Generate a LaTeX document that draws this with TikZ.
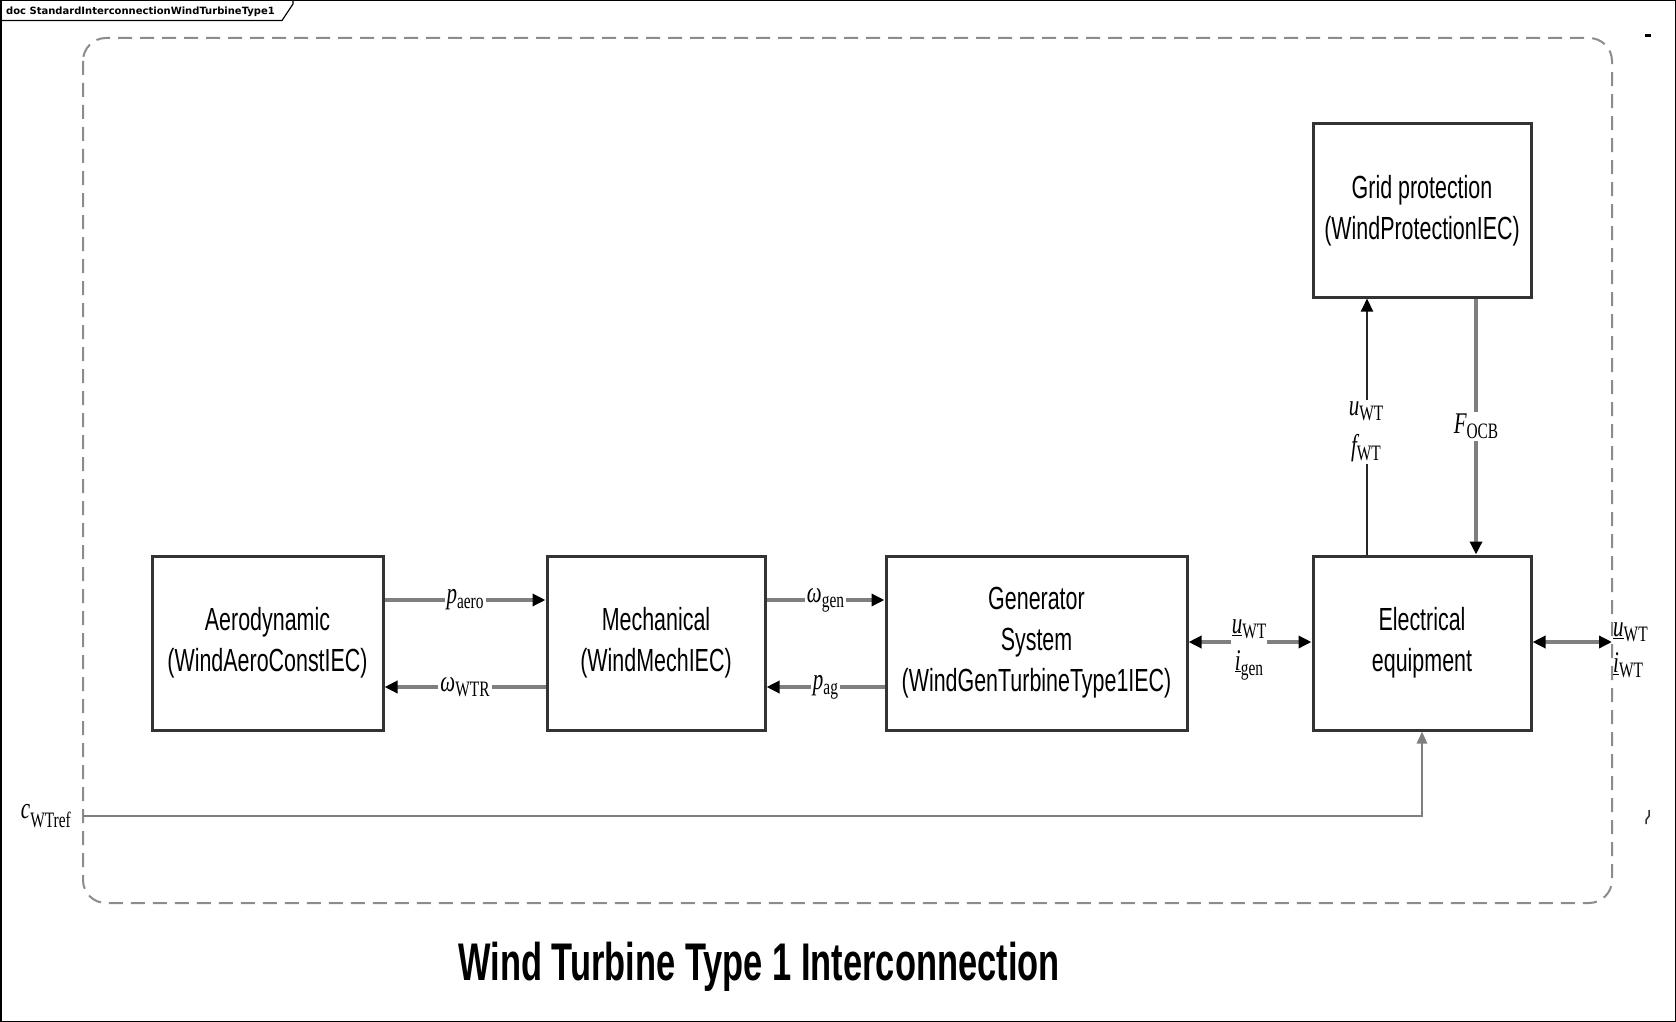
\documentclass[tikz,border=0pt]{standalone}
\usepackage{fontspec}
\usetikzlibrary{arrows.meta,calc}
\newfontfamily\boxfont[FakeStretch=0.67]{Liberation Sans}
\newfontfamily\titlefont[FakeStretch=0.65]{Liberation Sans}
\newfontfamily\lblfont[FakeStretch=0.7]{Liberation Serif}
\newfontfamily\tabfont{DejaVu Sans}
\newcommand\lbl[2]{{\fontsize{30}{30}\lblfont\itshape #1}{\fontsize{22}{22}\lblfont\raisebox{-5pt}{#2}}}
\definecolor{linegray}{HTML}{7F7F7F}
\definecolor{boxgray}{HTML}{333333}
\tikzset{
  blockbox/.style={draw=boxgray, line width=3pt, minimum width=#1, minimum height=174pt, inner sep=0pt,
    align=center, font=\fontsize{32}{41}\boxfont},
  conn/.style={draw=linegray, line width=4pt},
  thinconn/.style={draw=black!85, line width=2pt},
  arr/.style={-{Triangle[length=13pt,width=12pt,color=black]}},
  darr/.style={{Triangle[length=13pt,width=12pt,color=black]}-{Triangle[length=13pt,width=12pt,color=black]}},
  lab/.style={fill=white, inner sep=2pt, align=center},
}
\begin{document}
\begin{tikzpicture}[x=1pt,y=-1pt]
\useasboundingbox (0,0) rectangle (1676,1022);
\fill[white] (0,0) rectangle (1676,1022);
% frame and tab
\draw[line width=1.5pt] (0.75,0.75) rectangle (1675.25,1021.25);
\draw[line width=1.2pt] (0,20.5) -- (282,20.5) -- (293,4) -- (293,0);
\node[anchor=base west, inner sep=0pt, font=\fontsize{10}{11}\tabfont\bfseries] (tab) at (6,14.5) {doc StandardInterconnectionWindTurbineType1};
% dashed boundary
\draw[draw=black!45, line width=2pt, dash pattern=on 14pt off 8pt, rounded corners=23pt] (83,38) rectangle (1612,903);
% blocks
\node[blockbox=231pt] (aero) at (267.5,643) {Aerodynamic\\(WindAeroConstIEC)};
\node[blockbox=218pt] (mech) at (656,643) {Mechanical\\(WindMechIEC)};
\node[blockbox=301pt] (gen) at (1036.5,643) {Generator\\System\\(WindGenTurbineType1IEC)};
\node[blockbox=218pt] (elec) at (1422,643) {Electrical\\equipment};
\node[blockbox=218pt, minimum height=173pt] (grid) at (1422,210.5) {Grid protection\\(WindProtectionIEC)};
% row coordinates
\coordinate (r1) at (0,600);
\coordinate (r2) at (0,687);
\coordinate (r3) at (0,642);
\coordinate (cu) at (1367,0);
\coordinate (cf) at (1476,0);
\coordinate (outR) at (1612,642);
\coordinate (cin) at (83,816);
% connectors
\draw[conn,arr] (aero.east |- r1) -- node[lab] {\lbl{p}{aero}} (mech.west |- r1);
\draw[conn,arr] (mech.west |- r2) -- node[lab] {\lbl{ω}{WTR}} (aero.east |- r2);
\draw[conn,arr] (mech.east |- r1) -- node[lab] {\lbl{ω}{gen}} (gen.west |- r1);
\draw[conn,arr] (gen.west |- r2) -- node[lab] {\lbl{p}{ag}} (mech.east |- r2);
\draw[conn,darr] (gen.east |- r3) -- (elec.west |- r3);
\node[lab, inner sep=1pt] (ul) at (1249,650) {\lbl{\underline{u}}{WT}\\[10pt]\lbl{\underline{i}}{gen}};
\draw[conn,darr] (elec.east |- r3) -- (outR);
\node[anchor=west, align=left, inner sep=0pt] (ur) at (1613,650) {\lbl{\underline{u}}{WT}\\[10pt]\lbl{\underline{i}}{WT}};
\draw[thinconn,arr] (elec.north -| cu) -- (grid.south -| cu);
\node[lab] (uf) at (1366,432) {\lbl{u}{WT}\\[12pt]\lbl{f}{WT}};
\draw[conn,arr] (grid.south -| cf) -- node[lab] {\lbl{F}{OCB}} (elec.north -| cf);
\draw[draw=linegray, line width=2.5pt, -{Triangle[length=12pt,width=10pt,color=linegray]}] (cin) -| (elec.south);
\node[anchor=east, inner sep=0pt] (cl) at ($(cin)+(-12,0)$) {\lbl{\raisebox{4pt}{c}}{WTref}};
% small marks
\fill[black] (1645,34) rectangle (1651,37);
\draw[black!80, line width=1.5pt] (1649,810) -- (1649,816) -- (1646,820) -- (1646,824);
% title
\node[font=\fontsize{53}{53}\titlefont\bfseries] (title) at (759,967) {Wind Turbine Type 1 Interconnection};
\end{tikzpicture}
\end{document}
